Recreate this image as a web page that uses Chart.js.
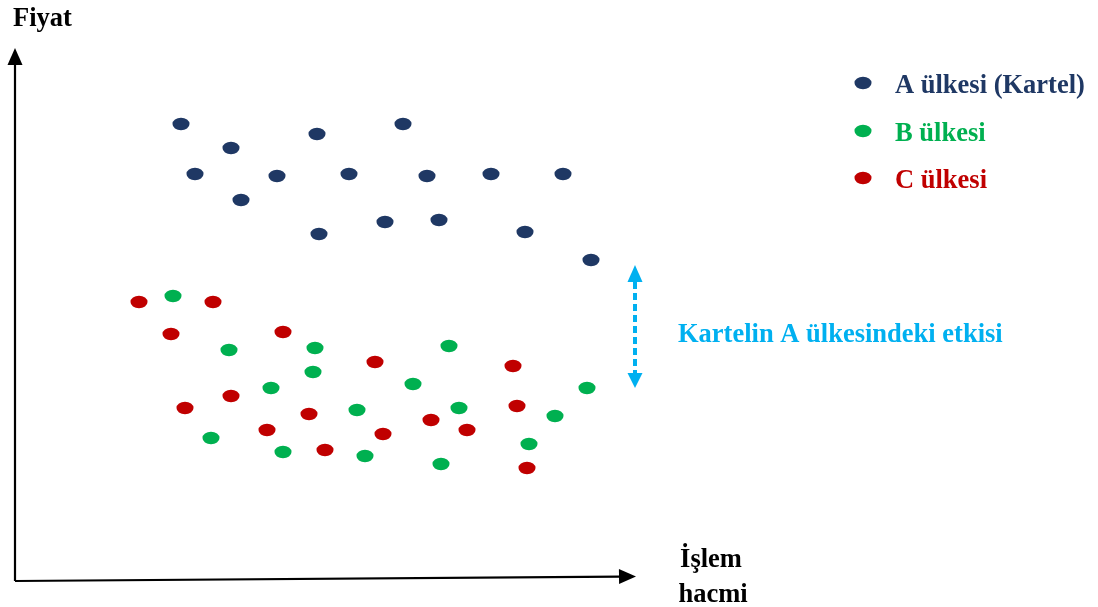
<!DOCTYPE html>
<html>
<head>
<meta charset="utf-8">
<script src="https://cdn.jsdelivr.net/npm/chart.js@4/dist/chart.umd.min.js"></script>
<style>
  html, body { margin: 0; padding: 0; background: #fff; overflow: hidden; }
  #wrap { width: 1098px; height: 607px; position: relative; }
</style>
</head>
<body>
<div id="wrap"><canvas id="c"></canvas></div>
<script>
// ---- Data (x = işlem hacmi, y = fiyat; arbitrary units from the axis origin) ----
const seriesLabels = ['A ülkesi (Kartel)', 'B ülkesi', 'C ülkesi'];
const seriesColors = ['#1F3864', '#00B050', '#C00000'];

const countryA = [
  [166,457],[216,433],[302,447],[388,457],[180,407],[262,405],[334,407],[412,405],
  [476,407],[548,407],[226,381],[304,347],[370,359],[424,361],[510,349],[576,321]
];
const countryB = [
  [158,285],[214,231],[300,233],[434,235],[298,209],[256,193],[398,197],[572,193],
  [342,171],[444,173],[540,165],[196,143],[514,137],[268,129],[350,125],[426,117]
];
const countryC = [
  [124,279],[198,279],[156,247],[268,249],[360,219],[498,215],[216,185],[170,173],
  [294,167],[502,175],[416,161],[252,151],[452,151],[368,147],[310,131],[512,113]
];

const axisTitleY = 'Fiyat';
const axisTitleX = ['İşlem', 'hacmi'];
const effectLabel = 'Kartelin A ülkesindeki etkisi';
// effect arrow spans the gap between cartel prices and the others (data units)
const effectX = 620;
const effectYTop = 316;
const effectYBottom = 193;
// axis extents (data units)
const axisXEnd = [621, 4.5];
const axisYEnd = [0, 533];

// ---- Styling helpers ----
function ellipseMarker(color) {
  const cv = document.createElement('canvas');
  cv.width = 18; cv.height = 14;
  const g = cv.getContext('2d');
  g.fillStyle = color;
  g.beginPath();
  g.ellipse(9, 7, 8.5, 6.2, 0, 0, Math.PI * 2);
  g.fill();
  return cv;
}
const markers = seriesColors.map(ellipseMarker);
const toPts = arr => arr.map(p => ({x: p[0], y: p[1]}));
const FONT = 'bold 26.5px "Liberation Serif", "Times New Roman", serif';

const decorPlugin = {
  id: 'decor',
  afterDatasetsDraw(chart) {
    const ctx = chart.ctx;
    const xs = chart.scales.x, ys = chart.scales.y;
    const px = v => xs.getPixelForValue(v), py = v => ys.getPixelForValue(v);
    ctx.save();

    // --- axes with arrowheads ---
    ctx.strokeStyle = '#000'; ctx.fillStyle = '#000'; ctx.lineWidth = 2.2;
    const ox = px(0), oy = py(0);
    const yTipX = px(axisYEnd[0]), yTipY = py(axisYEnd[1]);
    ctx.beginPath(); ctx.moveTo(ox, oy); ctx.lineTo(yTipX, yTipY + 16); ctx.stroke();
    ctx.beginPath(); ctx.moveTo(yTipX, yTipY); ctx.lineTo(yTipX - 7.5, yTipY + 17); ctx.lineTo(yTipX + 7.5, yTipY + 17); ctx.closePath(); ctx.fill();
    const xTipX = px(axisXEnd[0]), xTipY = py(axisXEnd[1]);
    const ang = Math.atan2(xTipY - oy, xTipX - ox);
    ctx.beginPath(); ctx.moveTo(ox, oy); ctx.lineTo(xTipX - 16 * Math.cos(ang), xTipY - 16 * Math.sin(ang)); ctx.stroke();
    ctx.save(); ctx.translate(xTipX, xTipY); ctx.rotate(ang);
    ctx.beginPath(); ctx.moveTo(0, 0); ctx.lineTo(-17, -7.5); ctx.lineTo(-17, 7.5); ctx.closePath(); ctx.fill();
    ctx.restore();

    // --- axis titles ---
    ctx.font = FONT; ctx.fillStyle = '#000'; ctx.textBaseline = 'alphabetic';
    ctx.textAlign = 'left';
    ctx.fillText(axisTitleY, 13, 26);
    ctx.textAlign = 'center';
    ctx.fillText(axisTitleX[0], 711, 567);
    ctx.fillText(axisTitleX[1], 713, 602);

    // --- legend ---
    ctx.textAlign = 'left';
    const legY = [83, 131, 178];
    chart.data.datasets.forEach((ds, i) => {
      const m = markers[i];
      ctx.drawImage(m, 863 - m.width / 2, legY[i] - m.height / 2);
      ctx.fillStyle = seriesColors[i];
      ctx.fillText(ds.label, 895, legY[i] + 10);
    });

    // --- effect arrow (dashed, double-headed) ---
    const ax = px(effectX), aTop = py(effectYTop), aBot = py(effectYBottom);
    ctx.strokeStyle = '#00B0F0'; ctx.fillStyle = '#00B0F0';
    ctx.lineWidth = 4; ctx.setLineDash([7, 4]);
    ctx.beginPath(); ctx.moveTo(ax, aTop + 17); ctx.lineTo(ax, aBot - 15); ctx.stroke();
    ctx.setLineDash([]);
    ctx.beginPath(); ctx.moveTo(ax, aTop); ctx.lineTo(ax - 7.5, aTop + 17); ctx.lineTo(ax + 7.5, aTop + 17); ctx.closePath(); ctx.fill();
    ctx.beginPath(); ctx.moveTo(ax, aBot); ctx.lineTo(ax - 7.5, aBot - 15); ctx.lineTo(ax + 7.5, aBot - 15); ctx.closePath(); ctx.fill();
    ctx.textAlign = 'left';
    ctx.fillText(effectLabel, 678, 342);

    ctx.restore();
  }
};

new Chart(document.getElementById('c'), {
  type: 'scatter',
  data: {
    datasets: [countryA, countryB, countryC].map((d, i) => ({
      label: seriesLabels[i],
      data: toPts(d),
      pointStyle: markers[i],
      backgroundColor: seriesColors[i],
      borderColor: seriesColors[i],
      clip: false
    }))
  },
  options: {
    responsive: true,
    maintainAspectRatio: false,
    animation: false,
    events: [],
    layout: { autoPadding: false, padding: { left: 15, right: 0, top: 0, bottom: 26 } },
    plugins: { legend: { display: false }, tooltip: { enabled: false } },
    scales: {
      x: { type: 'linear', display: false, min: 0, max: 1083 },
      y: { type: 'linear', display: false, min: 0, max: 581 }
    }
  },
  plugins: [decorPlugin]
});
</script>
</body>
</html>
